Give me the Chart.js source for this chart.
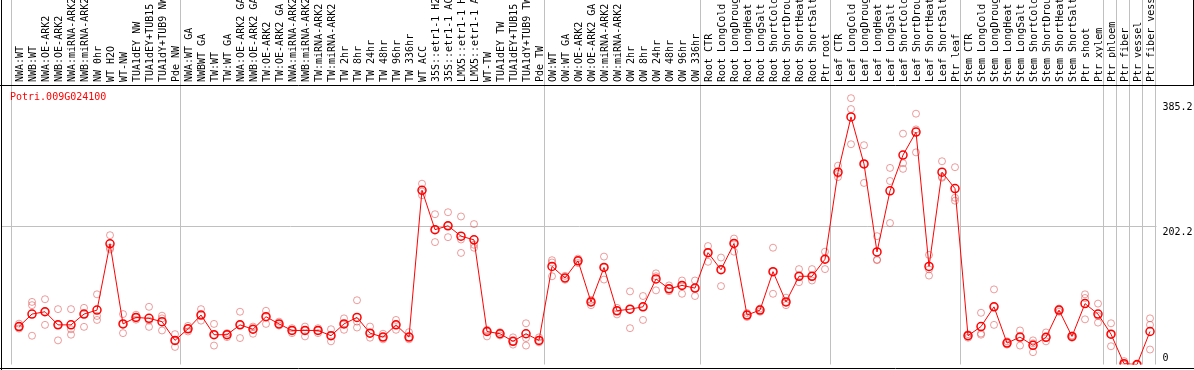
<!DOCTYPE html>
<html>
<head>
<meta charset="utf-8">
<script src="https://cdn.jsdelivr.net/npm/chart.js@4.4.1/dist/chart.umd.min.js"></script>
<style>
    html, body { margin: 0; padding: 0; background: white; }
    canvas { display: block; }
</style>
</head>
<body>
<canvas id="exprChart" width="1194" height="370"></canvas>
<script>
const geneName = 'Potri.009G024100';

const categories = [
    'NWA:WT', 'NWB:WT', 'NWA:OE-ARK2', 'NWB:OE-ARK2', 'NWA:miRNA-ARK2', 'NWB:miRNA-ARK2', 'NW 0hr', 'WT H2O', 'WT-NW',
    'TUA1dEY NW', 'TUA1dEY+TUB15 NW', 'TUA1dY+TUB9 NW', 'Pde NW',
    'NWA:WT GA', 'NWBWT GA', 'TW:WT', 'TW:WT GA', 'NWA:OE-ARK2 GA', 'NWB:OE-ARK2 GA', 'TW:OE-ARK2', 'TW:OE-ARK2 GA',
    'NWA:miRNA-ARK2 GA', 'NWB:miRNA-ARK2 GA', 'TW:miRNA-ARK2', 'TW:miRNA-ARK2 GA',
    'TW 2hr', 'TW 8hr', 'TW 24hr', 'TW 48hr', 'TW 96hr', 'TW 336hr', 'WT ACC',
    '35S::etr1-1 H2O', '35S::etr1-1 ACC', 'LMX5::etr1-1 H2O', 'LMX5::etr1-1 ACC', 'WT-TW',
    'TUA1dEY TW', 'TUA1dEY+TUB15 TW', 'TUA1dY+TUB9 TW', 'Pde TW',
    'OW:WT', 'OW:WT GA', 'OW:OE-ARK2', 'OW:OE-ARK2 GA', 'OW:miRNA-ARK2', 'OW:miRNA-ARK2 GA',
    'OW 2hr', 'OW 8hr', 'OW 24hr', 'OW 48hr', 'OW 96hr', 'OW 336hr',
    'Root CTR', 'Root LongCold', 'Root LongDrought', 'Root LongHeat', 'Root LongSalt',
    'Root ShortCold', 'Root ShortDrought', 'Root ShortHeat', 'Root ShortSalt', 'Ptr root',
    'Leaf CTR', 'Leaf LongCold', 'Leaf LongDrought', 'Leaf LongHeat', 'Leaf LongSalt',
    'Leaf ShortCold', 'Leaf ShortDrought', 'Leaf ShortHeat', 'Leaf ShortSalt', 'Ptr leaf',
    'Stem CTR', 'Stem LongCold', 'Stem LongDrought', 'Stem LongHeat', 'Stem LongSalt',
    'Stem ShortCold', 'Stem ShortDrought', 'Stem ShortHeat', 'Stem ShortSalt', 'Ptr shoot',
    'Ptr xylem', 'Ptr phloem', 'Ptr fiber', 'Ptr vessel', 'Ptr fiber vessel'
];

const meanValues = [
    55.5, 73.8, 77.2, 58, 58, 73.8, 79.6, 176.7, 59.4, 68.9, 67.5, 62.7, 35.3,
    52.2, 72.4, 43.6, 43.6, 58, 51.6, 69.9, 59.4, 49.8, 49.8, 49.8, 42.1, 59.4, 68.9, 45.9, 40.1, 58, 40.1,
    255, 197.3, 203, 187.8, 182.4, 48.3, 45, 33.9, 45, 35.3,
    143.5, 126.6, 151.7, 91.6, 142, 78.6, 81, 84.4, 125.2, 110.8, 115.7, 111.8,
    163.7, 138.7, 177.1, 72.4, 79.6, 135.9, 91.6, 129.1, 129.1, 154,
    281.5, 362.3, 293.5, 164.7, 254.1, 306.5, 340.1, 143.5, 281.5, 257.4,
    42.1, 55.5, 84.4, 31.4, 40.1, 28.1, 39.7, 79.6, 41.1, 89.1, 73.8, 44.4, 1.2, 0, 48.3
];

const rep1Values = [
    59.8, 91.6, 95.5, 81, 81, 82.9, 102.7, 189.2, 73.8, 72.8, 84.4, 71.4, 44.4,
    56.5, 81, 59.4, 45.9, 77.2, 55.5, 78.6, 62.7, 53.1, 55.5, 53.1, 51.6, 67.5, 94, 55.5, 45, 65.2, 47.3,
    264.6, 219.9, 222.8, 216.6, 205.5, 50.8, 47.3, 39.7, 60.3, 39.7,
    152.6, 129.8, 155, 94.5, 157.9, 82.9, 107, 100.2, 133.4, 115.7, 122.9, 122.9,
    173.3, 156.5, 184.3, 75.3, 81.9, 170.9, 97.8, 139.6, 139.6, 165.1,
    291, 389.7, 320.9, 187.8, 287.7, 337.8, 367, 160.4, 297.4, 288.7,
    44.4, 75.7, 109.9, 33.9, 49.8, 35.3, 46.9, 81.9, 42.5, 102.7, 89.1, 60.3, 5, 0, 67.5
];

const rep2Values = [
    52.6, 86.8, 58, 35.3, 51.6, 55.1, 71, 170.9, 45.9, 65.6, 55.1, 67.5, 25.7,
    48.3, 64.2, 27.7, 40.1, 38.7, 45, 59.4, 57, 45.9, 41.1, 45.9, 33.9, 50.8, 54.1, 39.2, 36.8, 50.8, 36.8,
    247.8, 179.1, 186.3, 182.9, 170.9, 41.1, 42.5, 29.1, 38.7, 32.4,
    129.1, 124, 148.5, 86.8, 124.3, 73.3, 53.1, 65.2, 108.5, 107.4, 103.5, 100.2,
    150.3, 114.7, 165.1, 69.5, 77.2, 103.5, 86.8, 120.4, 122.9, 139.6,
    274.3, 373.8, 265.7, 152.6, 268.5, 294.5, 344, 130.1, 273.3, 244,
    39.2, 43.6, 58, 29.1, 27.7, 18, 33.9, 77.2, 39.2, 66.1, 61.3, 26.7, 0, 0, 58
];

const rep3Values = [
    55.5, 42.1, 77.2, 58, 43.6, 73.8, 65.2, 168.4, 59.4, 68.9, 64.2, 49.8, 35.3,
    52.2, 72.4, 43.6, 43.6, 58, 51.6, 69.9, 59.4, 49.8, 49.8, 49.8, 42.1, 59.4, 62.7, 45.9, 40.1, 58, 40.1,
    253.1, 197.3, 203, 163.3, 175.2, 48.3, 45, 33.9, 27.7, 35.3,
    149.3, 126.6, 151.7, 91.6, 142, 78.6, 81, 84.4, 129.1, 110.8, 115.7, 111.8,
    163.7, 138.7, 177.1, 72.4, 79.6, 135.9, 91.6, 129.1, 129.1, 154,
    279.1, 322.3, 293.5, 153.6, 207, 286.3, 310.4, 139.2, 274.7, 239.7,
    42.1, 45.4, 84.4, 31.4, 40.1, 31, 39.7, 79.6, 41.1, 97.3, 71, 44.4, 0.7, 0, 21.9
];

// y tick labels shown on the right, only one of them gets a grid line
const yTicks = [0, 202.2, 385.2];
const yGridTicks = [202.2];

// a separator line is drawn right after these category indexes (-1 = before the first one)
const separatorsAfter = [-1, 12, 40, 52, 62, 72, 83, 84, 85, 86, 87];

const monoFont = 'DejaVu Sans Mono';

const decorations = {
    id: 'decorations',
    beforeDatasetsDraw(chart) {
        const ctx = chart.ctx;
        const x = chart.scales.x;
        const y = chart.scales.y;
        const area = chart.chartArea;
        ctx.save();
        ctx.strokeStyle = '#c0c0c0';
        ctx.lineWidth = 1;
        separatorsAfter.forEach(function (i) {
            const px = Math.floor(x.getPixelForValue(i) + 5.5) + 0.5;
            ctx.beginPath();
            ctx.moveTo(px, 0);
            ctx.lineTo(px, area.bottom);
            ctx.stroke();
        });
        yGridTicks.forEach(function (v) {
            const py = Math.round(y.getPixelForValue(v)) + 0.5;
            ctx.beginPath();
            ctx.moveTo(2, py);
            ctx.lineTo(area.right, py);
            ctx.stroke();
        });
        ctx.restore();
    },
    afterDraw(chart) {
        const ctx = chart.ctx;
        const y = chart.scales.y;
        const area = chart.chartArea;
        const w = chart.width;
        ctx.save();
        // black frame
        ctx.strokeStyle = '#000';
        ctx.lineWidth = 1;
        ctx.beginPath();
        ctx.moveTo(1.5, 0);
        ctx.lineTo(1.5, chart.height);
        ctx.moveTo(0, 85.5);
        ctx.lineTo(w, 85.5);
        ctx.moveTo(0, 368.5);
        ctx.lineTo(w, 368.5);
        ctx.moveTo(w - 0.5, 0);
        ctx.lineTo(w - 0.5, 85.5);
        ctx.stroke();

        ctx.font = '10px "' + monoFont + '"';
        ctx.fillStyle = 'red';
        ctx.textAlign = 'left';
        ctx.textBaseline = 'middle';
        ctx.fillText(geneName, 10, 97);

        ctx.fillStyle = '#000';
        yTicks.forEach(function (v) {
            const py = y.getPixelForValue(v);
            if (v === 0) {
                ctx.textBaseline = 'bottom';
                ctx.fillText(String(v), area.right + 6, py - 1);
            } else {
                ctx.textBaseline = 'top';
                ctx.fillText(String(v), area.right + 6, py + 1);
            }
        });
        ctx.restore();
    }
};

function repDataset(values) {
    return {
        data: values,
        showLine: false,
        borderColor: 'rgba(220, 60, 60, 0.5)',
        backgroundColor: 'transparent',
        pointRadius: 3.5,
        pointBorderWidth: 1,
        pointBackgroundColor: 'transparent',
        pointBorderColor: 'rgba(220, 60, 60, 0.5)',
        order: 2,
        clip: { left: 5, top: 5, right: 5, bottom: 0 }
    };
}

new Chart(document.getElementById('exprChart'), {
    type: 'line',
    data: {
        labels: categories,
        datasets: [
            {
                data: meanValues,
                borderColor: 'red',
                borderWidth: 1,
                backgroundColor: 'transparent',
                pointRadius: 4,
                pointBorderWidth: 1.5,
                pointBackgroundColor: 'transparent',
                pointBorderColor: 'red',
                tension: 0,
                order: 0,
                clip: { left: 5, top: 5, right: 5, bottom: 0 }
            },
            repDataset(rep1Values),
            repDataset(rep2Values),
            repDataset(rep3Values)
        ]
    },
    options: {
        responsive: false,
        animation: false,
        devicePixelRatio: 1,
        layout: {
            padding: { left: 12.5, right: 37.5, top: 0, bottom: 1.5 }
        },
        scales: {
            x: {
                type: 'category',
                position: 'top',
                offset: true,
                afterFit: function (scale) {
                    scale.height = 85;
                },
                grid: { display: false, drawTicks: false },
                border: { display: false },
                ticks: {
                    autoSkip: false,
                    minRotation: 90,
                    maxRotation: 90,
                    padding: 3,
                    labelOffset: 13,
                    color: '#000',
                    font: { family: monoFont, size: 10 }
                }
            },
            y: {
                display: false,
                min: 0,
                max: 409
            }
        },
        plugins: {
            legend: { display: false },
            tooltip: { enabled: false }
        }
    },
    plugins: [decorations]
});
</script>
</body>
</html>
